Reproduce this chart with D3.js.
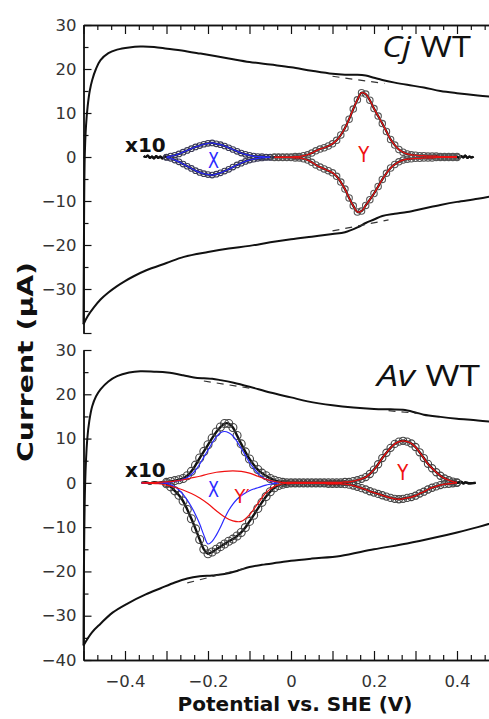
<!DOCTYPE html>
<html>
<head>
<meta charset="utf-8">
<script src="https://cdn.jsdelivr.net/npm/d3@7"></script>
<style>
  body { margin: 0; background: #fff; }
  svg { display: block; }
</style>
</head>
<body>
<script>
// ---- axis ticks ----
const xMajor = [-0.5, -0.4, -0.3, -0.2, -0.1, 0, 0.1, 0.2, 0.3, 0.4, 0.5]
const xLabels = [-0.4, -0.2, 0, 0.2, 0.4]
const yMajor = [-40, -30, -20, -10, 0, 10, 20, 30]
const yMinor = [-35, -25, -15, -5, 5, 15, 25]
const yLabelsTop = [-30, -20, -10, 0, 10, 20, 30]
const yLabelsBot = [-40, -30, -20, -10, 0, 10, 20, 30]

// ---- Cj WT : outer CV (E / V, i / uA) ----
const cjOuterUp = [
  [-0.500, -38.0], [-0.499, -20.0], [-0.497, 0.0], [-0.494, 7.0], [-0.490, 11.5],
  [-0.485, 15.0], [-0.479, 17.5], [-0.470, 20.0], [-0.459, 22.0], [-0.440, 23.6],
  [-0.419, 24.4], [-0.390, 24.9], [-0.363, 25.1], [-0.330, 25.0], [-0.298, 24.6],
  [-0.250, 24.0], [-0.218, 23.5], [-0.150, 22.4], [-0.100, 21.6], [-0.050, 21.0],
  [0.000, 20.4], [0.050, 19.6], [0.100, 18.9], [0.130, 18.7], [0.160, 18.7],
  [0.180, 18.5], [0.200, 18.0], [0.220, 17.5], [0.250, 16.9], [0.280, 16.4],
  [0.320, 15.8], [0.360, 15.0], [0.400, 14.5], [0.450, 14.0], [0.500, 13.6]
]
const cjOuterLow = [
  [-0.500, -38.0], [-0.490, -36.2], [-0.475, -34.2], [-0.459, -32.4], [-0.440, -30.8],
  [-0.420, -29.4], [-0.400, -28.2], [-0.379, -27.1], [-0.350, -25.8], [-0.300, -24.1],
  [-0.258, -22.7], [-0.200, -21.6], [-0.150, -20.8], [-0.100, -20.2], [-0.050, -19.4],
  [0.000, -18.7], [0.050, -18.1], [0.100, -17.5], [0.130, -17.1], [0.160, -16.0],
  [0.180, -15.0], [0.200, -14.2], [0.220, -13.4], [0.250, -12.9], [0.280, -12.5],
  [0.320, -11.7], [0.360, -10.9], [0.400, -10.2], [0.450, -9.5], [0.500, -8.6]
]
const cjDashUp = [[0.10, 18.35], [0.225, 16.7]]
const cjDashLow = [[0.10, -16.8], [0.235, -14.3]]

// ---- Cj WT : x10 signal, rows [E, oxidative, reductive] ----
const cjX = [
  [-0.30, 0.0, -0.1], [-0.29, 0.2, -0.3], [-0.28, 0.4, -0.7], [-0.27, 0.7, -1.1],
  [-0.26, 1.1, -1.6], [-0.25, 1.5, -2.1], [-0.24, 1.9, -2.6], [-0.23, 2.3, -3.1],
  [-0.22, 2.6, -3.5], [-0.21, 2.9, -3.8], [-0.20, 3.1, -4.0], [-0.19, 3.2, -4.1],
  [-0.18, 3.0, -3.9], [-0.17, 2.8, -3.6], [-0.16, 2.5, -3.2], [-0.15, 2.1, -2.8],
  [-0.14, 1.7, -2.3], [-0.13, 1.3, -1.8], [-0.12, 0.9, -1.4], [-0.11, 0.6, -1.0],
  [-0.10, 0.4, -0.7], [-0.09, 0.2, -0.5], [-0.08, 0.1, -0.3], [-0.07, 0.1, -0.2],
  [-0.06, 0.0, -0.1], [-0.05, 0.0, -0.1]
]
const cjY = [
  [-0.04, 0.0, -0.1], [-0.03, 0.0, -0.1], [-0.02, 0.0, -0.1], [-0.01, 0.0, -0.1],
  [0.00, 0.0, -0.1], [0.01, 0.1, -0.2], [0.02, 0.1, -0.2], [0.03, 0.3, -0.4],
  [0.04, 0.5, -0.7], [0.05, 0.9, -1.2], [0.06, 1.4, -1.8], [0.07, 1.8, -2.3],
  [0.08, 2.1, -2.7], [0.09, 2.5, -3.1], [0.10, 3.0, -3.6], [0.11, 3.8, -4.4],
  [0.12, 5.0, -5.7], [0.13, 6.6, -7.3], [0.14, 8.6, -9.3], [0.15, 10.9, -11.1],
  [0.16, 13.0, -12.5], [0.17, 14.6, -12.3], [0.18, 14.3, -11.0], [0.19, 12.9, -9.7],
  [0.20, 11.0, -8.3], [0.21, 9.3, -6.7], [0.22, 7.6, -5.1], [0.23, 5.8, -3.7],
  [0.24, 4.0, -2.5], [0.25, 2.7, -1.7], [0.26, 1.7, -1.1], [0.27, 1.1, -0.7],
  [0.28, 0.7, -0.5], [0.29, 0.5, -0.4], [0.30, 0.4, -0.3], [0.31, 0.3, -0.3],
  [0.32, 0.3, -0.2], [0.33, 0.2, -0.2], [0.34, 0.2, -0.2], [0.35, 0.2, -0.1],
  [0.36, 0.1, -0.1], [0.37, 0.1, -0.1], [0.38, 0.1, -0.1], [0.39, 0.1, -0.1],
  [0.40, 0.1, -0.1]
]
const cjTailL = [
  [-0.355, 0.2], [-0.350, 0.0], [-0.345, 0.3], [-0.340, -0.2], [-0.335, 0.1], [-0.330, -0.3],
  [-0.325, 0.2], [-0.320, -0.2], [-0.315, 0.1], [-0.310, -0.3], [-0.305, 0.1], [-0.300, 0.0]
]
const cjTailR = [
  [0.400, 0.1], [0.405, -0.2], [0.410, 0.2], [0.415, -0.1], [0.420, 0.3],
  [0.425, -0.2], [0.430, 0.1], [0.435, -0.1], [0.440, 0.1]
]

// ---- Av WT : outer CV ----
const avOuterUp = [
  [-0.500, -36.7], [-0.499, -20.0], [-0.496, 0.0], [-0.491, 9.8], [-0.486, 14.0],
  [-0.479, 17.3], [-0.470, 19.5], [-0.459, 21.1], [-0.440, 22.9], [-0.419, 24.1],
  [-0.390, 24.9], [-0.363, 25.2], [-0.330, 25.1], [-0.298, 24.9], [-0.260, 24.3],
  [-0.234, 23.8], [-0.210, 23.6], [-0.190, 23.5], [-0.170, 23.2], [-0.138, 22.6],
  [-0.100, 21.7], [-0.050, 20.4], [0.000, 19.3], [0.040, 18.4], [0.100, 17.5],
  [0.150, 17.0], [0.200, 16.7], [0.240, 16.6], [0.270, 16.5], [0.300, 15.9],
  [0.320, 15.4], [0.360, 14.9], [0.400, 14.5], [0.450, 14.1], [0.500, 13.6]
]
const avOuterLow = [
  [-0.500, -36.7], [-0.480, -33.8], [-0.459, -31.8], [-0.430, -29.3], [-0.395, -27.3],
  [-0.350, -25.2], [-0.314, -23.8], [-0.280, -22.5], [-0.250, -21.6], [-0.220, -21.1],
  [-0.190, -20.9], [-0.160, -20.6], [-0.130, -19.9], [-0.100, -19.0], [-0.070, -18.5],
  [-0.030, -18.0], [0.000, -17.6], [0.050, -17.1], [0.119, -16.5], [0.200, -15.0],
  [0.280, -13.7], [0.350, -12.3], [0.400, -11.2], [0.450, -10.0], [0.500, -8.6]
]
const avDashUp1 = [[-0.21, 23.0], [-0.10, 21.4]]
const avDashUp2 = [[0.235, 16.3], [0.305, 15.7]]
const avDashLow = [[-0.25, -22.6], [-0.10, -19.0]]

// ---- Av WT : x10 signal ----
const avXY = [
  [-0.30, 0.1, -0.2], [-0.29, 0.3, -0.9], [-0.28, 0.5, -1.8], [-0.27, 0.7, -2.8],
  [-0.26, 1.0, -4.1], [-0.25, 1.6, -6.0], [-0.24, 2.6, -8.1], [-0.23, 4.0, -10.4],
  [-0.22, 5.6, -12.8], [-0.21, 7.1, -15.0], [-0.20, 8.6, -16.0], [-0.19, 10.1, -15.6],
  [-0.18, 11.5, -15.0], [-0.17, 12.6, -14.4], [-0.16, 13.4, -13.8], [-0.15, 13.4, -13.2],
  [-0.14, 12.5, -12.7], [-0.13, 10.7, -12.0], [-0.12, 8.8, -11.2], [-0.11, 7.0, -10.1],
  [-0.10, 5.4, -8.7], [-0.09, 4.1, -7.3], [-0.08, 3.0, -5.8], [-0.07, 2.2, -4.4],
  [-0.06, 1.6, -3.1], [-0.05, 1.0, -2.0], [-0.04, 0.6, -1.1], [-0.03, 0.3, -0.6],
  [-0.02, 0.1, -0.3]
]
const avY = [
  [-0.01, 0.1, -0.2], [0.00, 0.1, -0.1], [0.01, 0.1, -0.1], [0.02, 0.1, -0.1],
  [0.03, 0.1, -0.1], [0.04, 0.1, -0.1], [0.05, 0.1, -0.1], [0.06, 0.1, -0.1],
  [0.07, 0.1, -0.1], [0.08, 0.1, -0.1], [0.09, 0.1, -0.2], [0.10, 0.1, -0.2],
  [0.11, 0.1, -0.2], [0.12, 0.1, -0.2], [0.13, 0.2, -0.3], [0.14, 0.2, -0.4],
  [0.15, 0.4, -0.6], [0.16, 0.6, -0.9], [0.17, 0.9, -1.2], [0.18, 1.3, -1.5],
  [0.19, 2.0, -1.9], [0.20, 3.0, -2.2], [0.21, 4.2, -2.5], [0.22, 5.6, -2.8],
  [0.23, 6.8, -3.1], [0.24, 7.9, -3.4], [0.25, 8.8, -3.6], [0.26, 9.3, -3.7],
  [0.27, 9.5, -3.6], [0.28, 9.3, -3.4], [0.29, 8.9, -3.2], [0.30, 8.1, -2.9],
  [0.31, 6.9, -2.4], [0.32, 5.6, -2.0], [0.33, 4.3, -1.5], [0.34, 3.3, -1.1],
  [0.35, 2.4, -0.8], [0.36, 1.6, -0.5], [0.37, 1.0, -0.3], [0.38, 0.6, -0.2],
  [0.39, 0.3, -0.1], [0.40, 0.1, 0.0]
]
const avXFit = [
  [-0.36, 0.0, 0.0], [-0.32, 0.0, 0.0], [-0.30, 0.1, -0.1], [-0.29, 0.2, -0.4],
  [-0.28, 0.3, -0.9], [-0.27, 0.5, -1.6], [-0.26, 0.8, -2.6], [-0.25, 1.2, -3.9],
  [-0.24, 1.9, -5.4], [-0.23, 2.9, -7.2], [-0.22, 4.2, -9.3], [-0.21, 5.8, -11.8],
  [-0.20, 7.4, -13.8], [-0.19, 9.0, -13.2], [-0.18, 10.4, -11.8], [-0.17, 11.3, -10.0],
  [-0.16, 11.6, -8.0], [-0.15, 11.3, -6.2], [-0.14, 10.6, -4.8], [-0.13, 9.3, -3.7],
  [-0.12, 7.8, -2.9], [-0.11, 6.2, -2.3], [-0.10, 4.6, -1.8], [-0.09, 3.3, -1.4],
  [-0.08, 2.2, -1.1], [-0.07, 1.4, -0.8], [-0.06, 0.8, -0.5], [-0.05, 0.4, -0.3],
  [-0.04, 0.2, -0.1], [-0.03, 0.0, 0.0]
]
const avYpFit = [
  [-0.36, 0.0, 0.0], [-0.32, 0.1, -0.2], [-0.30, 0.2, -0.5], [-0.28, 0.4, -1.0],
  [-0.26, 0.7, -1.6], [-0.24, 1.1, -2.4], [-0.22, 1.5, -3.4], [-0.20, 2.0, -4.7],
  [-0.18, 2.4, -6.3], [-0.16, 2.6, -7.7], [-0.14, 2.7, -8.6], [-0.12, 2.6, -8.7],
  [-0.10, 2.2, -7.2], [-0.08, 1.5, -4.7], [-0.06, 0.8, -2.2], [-0.04, 0.3, -0.8],
  [-0.02, 0.1, -0.2], [0.00, 0.0, 0.0]
]
const avTailL = [
  [-0.360, 0.0], [-0.350, 0.1], [-0.340, -0.1], [-0.330, 0.1], [-0.320, 0.0], [-0.310, 0.1], [-0.300, 0.0]
]
const avTailR = [
  [0.400, 0.0], [0.410, 0.2], [0.415, -0.1], [0.420, 0.1], [0.430, -0.1], [0.445, 0.0]
]

// ---- layout ----
const W = 489
const H = 719
const x = d3.scaleLinear().domain([-0.5, 0.5]).range([83.5, 498.5])
const yTop = d3.scaleLinear().domain([-40, 30]).range([333, 25])
const yBot = d3.scaleLinear().domain([-40, 30]).range([660, 350])

const svg = d3.select('body').append('svg')
  .attr('width', W)
  .attr('height', H)
  .style('background', '#fff')

const xMinor = d3.range(0, 31).map(i => -0.5 + i / 30).filter(v => Math.abs(v * 10 - Math.round(v * 10)) > 1e-6)
const near = (arr, v) => arr.some(a => Math.abs(a - v) < 1e-6)
const fmtX = d => Math.abs(d) < 1e-9 ? '0' : d3.format('.1f')(d)

function styleAxis (g) {
  g.selectAll('path.domain').attr('stroke', '#111').attr('stroke-width', 1.4)
  g.selectAll('.tick line').attr('stroke', '#111').attr('stroke-width', 1.2)
  g.selectAll('text')
    .attr('font-family', 'DejaVu Sans, Verdana, sans-serif')
    .attr('font-size', 16.5)
    .attr('fill', '#333')
  return g
}

function drawAxes (y, yLabels, withTop, withBottom) {
  const g = svg.append('g')
  const x0 = x.range()[0]
  const x1 = x.range()[1]

  // left
  g.append('g').attr('transform', `translate(${x0},0)`)
    .call(d3.axisLeft(y).tickValues(yMinor).tickSize(-5).tickSizeOuter(0).tickFormat(''))
    .call(styleAxis)
  g.append('g').attr('transform', `translate(${x0},0)`)
    .call(d3.axisLeft(y).tickValues(yMajor).tickSize(-8).tickSizeOuter(0).tickPadding(7)
      .tickFormat(d => near(yLabels, d) ? d3.format('d')(d) : ''))
    .call(styleAxis)

  // right (mirror)
  g.append('g').attr('transform', `translate(${x1},0)`)
    .call(d3.axisRight(y).tickValues(yMinor).tickSize(-5).tickSizeOuter(0).tickFormat(''))
    .call(styleAxis)
  g.append('g').attr('transform', `translate(${x1},0)`)
    .call(d3.axisRight(y).tickValues(yMajor).tickSize(-9).tickSizeOuter(0).tickFormat(''))
    .call(styleAxis)

  if (withTop) {
    const yt = y.range()[1]
    g.append('g').attr('transform', `translate(0,${yt})`)
      .call(d3.axisTop(x).tickValues(xMinor).tickSize(-5).tickSizeOuter(0).tickFormat(''))
      .call(styleAxis)
    g.append('g').attr('transform', `translate(0,${yt})`)
      .call(d3.axisTop(x).tickValues(xMajor).tickSize(-9).tickSizeOuter(0).tickFormat(''))
      .call(styleAxis)
  }
  if (withBottom) {
    const yb = y.range()[0]
    g.append('g').attr('transform', `translate(0,${yb})`)
      .call(d3.axisBottom(x).tickValues(xMinor).tickSize(-5).tickSizeOuter(0).tickFormat(''))
      .call(styleAxis)
    g.append('g').attr('transform', `translate(0,${yb})`)
      .call(d3.axisBottom(x).tickValues(xMajor).tickSize(-9).tickSizeOuter(0).tickPadding(15)
        .tickFormat(d => near(xLabels, d) ? fmtX(d) : ''))
      .call(styleAxis)
  }
}

const curve = d3.curveCatmullRom.alpha(0.5)
const lineOf = y => d3.line().x(d => x(d[0])).y(d => y(d[1])).curve(curve)
const ox = rows => rows.map(r => [r[0], r[1]])
const red = rows => rows.map(r => [r[0], r[2]])

function path (g, y, data, color, width, dash) {
  g.append('path')
    .attr('d', lineOf(y)(data))
    .attr('fill', 'none')
    .attr('stroke', color)
    .attr('stroke-width', width)
    .attr('stroke-linejoin', 'round')
    .attr('stroke-dasharray', dash || null)
}

function circles (g, y, rows, r, color) {
  const pts = ox(rows).concat(red(rows))
  g.append('g').selectAll('circle')
    .data(pts)
    .enter()
    .append('circle')
    .attr('cx', d => x(d[0]))
    .attr('cy', d => y(d[1]))
    .attr('r', r)
    .attr('fill', 'none')
    .attr('stroke', color)
    .attr('stroke-width', 1.1)
}

function label (g, text, px, py, color, size, len) {
  g.append('text')
    .attr('x', px)
    .attr('y', py)
    .attr('text-anchor', 'middle')
    .attr('dominant-baseline', 'central')
    .attr('font-family', 'DejaVu Sans, sans-serif')
    .attr('font-size', size)
    .attr('fill', color)
    .attr('textLength', len)
    .attr('lengthAdjust', 'spacingAndGlyphs')
    .text(text)
}

function title (g, italic, rest, xEnd, yBase, len) {
  const t = g.append('text')
    .attr('x', xEnd)
    .attr('y', yBase)
    .attr('text-anchor', 'end')
    .attr('font-family', 'Open Sans, sans-serif')
    .attr('font-size', 29)
    .attr('fill', '#111')
    .attr('textLength', len)
    .attr('lengthAdjust', 'spacingAndGlyphs')
  t.append('tspan').attr('font-style', 'italic').text(italic)
  t.append('tspan').attr('dx', 8).text(rest)
}

function x10 (g, y) {
  g.append('text')
    .attr('x', 125)
    .attr('y', y)
    .attr('font-family', 'DejaVu Sans, sans-serif')
    .attr('font-weight', 'bold')
    .attr('font-size', 20)
    .attr('fill', '#111')
    .text('x10')
}

const BLUE = '#2a2aff'
const RED = '#f01010'

// ================= top panel : Cj WT =================
const gT = svg.append('g')
path(gT, yTop, cjOuterUp, '#111', 2)
path(gT, yTop, cjOuterLow, '#111', 2)
path(gT, yTop, cjDashUp, '#333', 1.2, '7,6')
path(gT, yTop, cjDashLow, '#333', 1.2, '7,6')

path(gT, yTop, cjTailL.concat(ox(cjX), ox(cjY), cjTailR), '#111', 2.2)
path(gT, yTop, cjTailL.concat(red(cjX), red(cjY), cjTailR), '#111', 2.2)
circles(gT, yTop, cjX, 2.8, '#3a3a55')
circles(gT, yTop, cjY, 3.2, '#555')
path(gT, yTop, ox(cjX), BLUE, 1.2)
path(gT, yTop, red(cjX), BLUE, 1.2)
path(gT, yTop, ox(cjY), RED, 1.2)
path(gT, yTop, red(cjY), RED, 1.2)

label(gT, 'X', x(-0.187), yTop(-0.9), BLUE, 21, 11)
label(gT, 'Y', x(0.175), yTop(0.4), RED, 21, 11)
x10(gT, 152)
title(gT, 'Cj', 'WT', 471, 57, 89)
drawAxes(yTop, yLabelsTop, true, false)

// ================= bottom panel : Av WT =================
const gB = svg.append('g')
path(gB, yBot, avOuterUp, '#111', 2)
path(gB, yBot, avOuterLow, '#111', 2)
path(gB, yBot, avDashUp1, '#333', 1.2, '7,6')
path(gB, yBot, avDashUp2, '#333', 1.2, '7,6')
path(gB, yBot, avDashLow, '#333', 1.2, '7,6')

path(gB, yBot, avTailL.concat(ox(avXY), ox(avY), avTailR), '#111', 2.4)
path(gB, yBot, avTailL.concat(red(avXY), red(avY), avTailR), '#111', 2.4)
circles(gB, yBot, avXY, 4, '#444')
circles(gB, yBot, avY, 3.6, '#444')
path(gB, yBot, ox(avXFit), BLUE, 1.2)
path(gB, yBot, red(avXFit), BLUE, 1.2)
path(gB, yBot, ox(avYpFit), RED, 1.2)
path(gB, yBot, red(avYpFit), RED, 1.2)
path(gB, yBot, ox(avY), RED, 1.3)
path(gB, yBot, red(avY), RED, 1.3)

label(gB, 'X', x(-0.187), yBot(-1.6), BLUE, 21, 11)
label(gB, 'Y\u2032', x(-0.118), yBot(-3.0), RED, 19, 15)
label(gB, 'Y', x(0.269), yBot(2.3), RED, 21, 11)
x10(gB, 477)
title(gB, 'Av', 'WT', 480, 386, 103)
drawAxes(yBot, yLabelsBot, false, true)

// ---- axis titles ----
svg.append('text')
  .attr('transform', 'translate(33,362) rotate(-90)')
  .attr('text-anchor', 'middle')
  .attr('font-family', 'DejaVu Sans, sans-serif')
  .attr('font-weight', 'bold')
  .attr('font-size', 22)
  .attr('fill', '#111')
  .attr('textLength', 200)
  .attr('lengthAdjust', 'spacingAndGlyphs')
  .text('Current (\u00b5A)')

svg.append('text')
  .attr('x', 295)
  .attr('y', 711)
  .attr('text-anchor', 'middle')
  .attr('font-family', 'DejaVu Sans, sans-serif')
  .attr('font-weight', 'bold')
  .attr('font-size', 20)
  .attr('fill', '#111')
  .attr('textLength', 235)
  .attr('lengthAdjust', 'spacingAndGlyphs')
  .text('Potential vs. SHE (V)')
</script>
</body>
</html>
